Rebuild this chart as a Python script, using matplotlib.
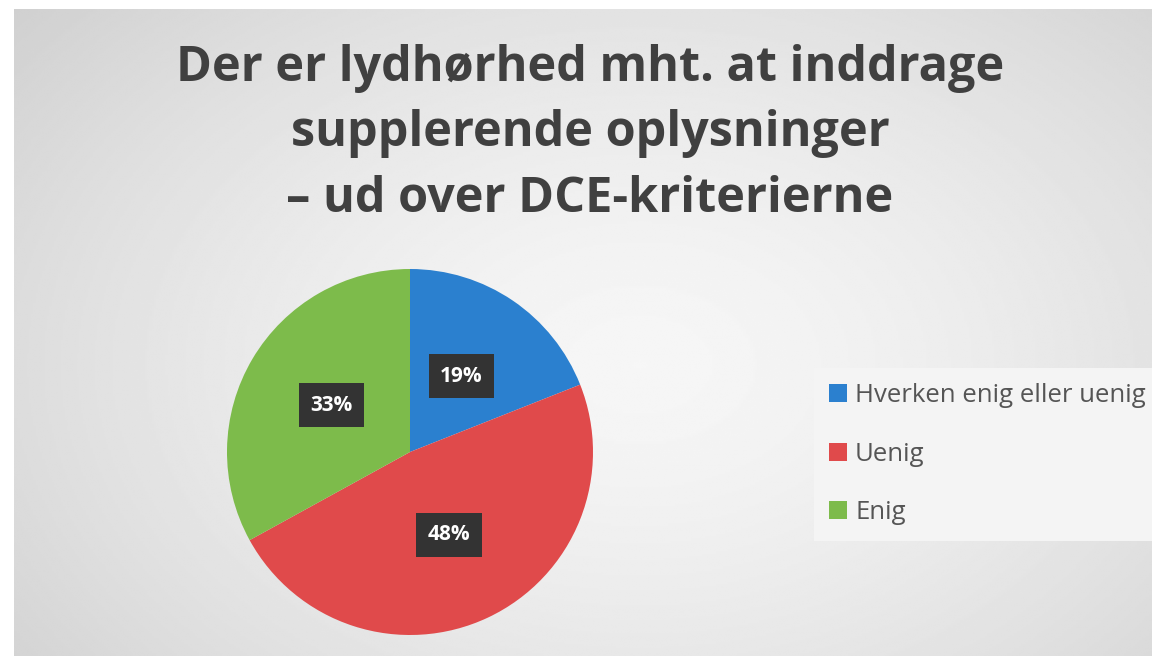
import numpy as np
import matplotlib
matplotlib.use("Agg")
import matplotlib.pyplot as plt
from matplotlib.patches import Patch

plt.rcParams["font.family"] = ["Open Sans", "DejaVu Sans"]

title = "Der er lydhørhed mht. at inddrage\nsupplerende oplysninger\n– ud over DCE-kriterierne"
labels = ["Hverken enig eller uenig", "Uenig", "Enig"]
values = [19, 48, 33]
colors = ["#2b80cf", "#e04a4b", "#7dbb4b"]

W, H = 1152, 656
fig = plt.figure(figsize=(W / 100, H / 100), dpi=100)
fig.patch.set_facecolor("white")

# grey panel with soft radial gradient
bg = fig.add_axes([14 / W, 0, 1 - 14 / W, 1 - 9 / H])
yy, xx = np.mgrid[0:1:300j, 0:1:500j]
d = np.sqrt(((xx - 0.55) / 0.75) ** 2 + ((yy - 0.55) / 0.9) ** 2)
shade = 0.965 - 0.16 * np.clip(d, 0, 1.2) ** 1.5
bg.imshow(shade, cmap="gray", vmin=0, vmax=1, aspect="auto",
          extent=[0, 1, 0, 1], interpolation="bilinear")
bg.set_axis_off()

fig.text(590 / W, 1 - 134 / H, title, ha="center", va="center",
         fontsize=35, fontweight="bold", color="#404040", linespacing=1.45)

# pie
r = 183
cx, cy = 410, 452
ax = fig.add_axes([(cx - r) / W, 1 - (cy + r) / H, 2 * r / W, 2 * r / H])
wedges, texts, autotexts = ax.pie(
    values, colors=colors, startangle=90, counterclock=False,
    autopct="%d%%", pctdistance=0.5,
    wedgeprops=dict(linewidth=0),
    textprops=dict(color="white", fontsize=15, fontweight="bold"))
for t in autotexts:
    t.set_bbox(dict(boxstyle="square,pad=0.55", facecolor="#333333", edgecolor="none"))
ax.set_aspect("equal")
ax.set_xlim(-1, 1)
ax.set_ylim(-1, 1)

handles = [Patch(facecolor=c, edgecolor="none") for c in colors]
leg = fig.legend(handles, labels, loc="upper left",
                 bbox_to_anchor=(814 / W, 1 - 368 / H), frameon=True,
                 fontsize=18.5, labelcolor="#555555", handlelength=0.7,
                 handleheight=0.7, handletextpad=0.3, labelspacing=1.3,
                 borderpad=0.6, borderaxespad=0, fancybox=False)
leg.get_frame().set_facecolor("#f4f4f4")
leg.get_frame().set_edgecolor("none")
leg.get_frame().set_alpha(1)

fig.savefig("out.png", dpi=100)
